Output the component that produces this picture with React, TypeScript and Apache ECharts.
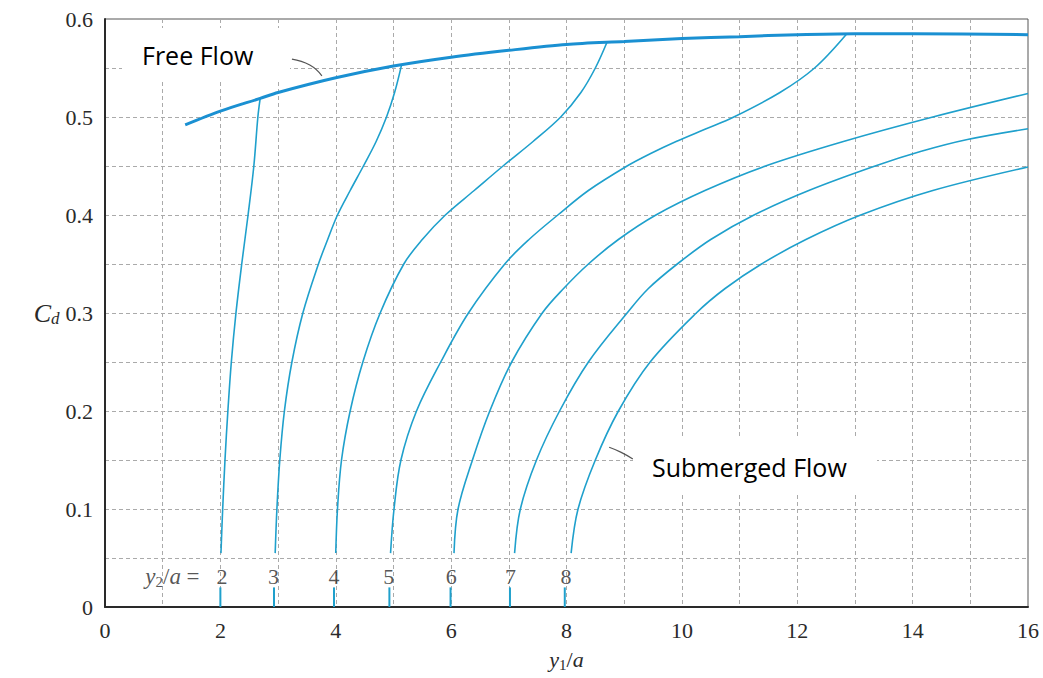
import React, { useEffect, useRef } from 'react';
import * as echarts from 'echarts';

// ---- Data ----
const freeFlowX = [1.39, 2, 2.69, 3, 4, 5, 6, 7, 8, 9, 10, 11, 12, 13, 14, 16];
const freeFlowY = [0.492, 0.506, 0.519, 0.525, 0.54, 0.552, 0.561, 0.568, 0.574, 0.577, 0.58, 0.582, 0.584, 0.585, 0.585, 0.584];

const sub2X = [2.01, 2.04, 2.08, 2.13, 2.19, 2.27, 2.37, 2.48, 2.58, 2.65, 2.69];
const sub2Y = [0.055, 0.1, 0.15, 0.2, 0.25, 0.3, 0.35, 0.4, 0.45, 0.5, 0.519];

const sub3X = [2.95, 2.98, 3.03, 3.11, 3.24, 3.43, 3.7, 3.86, 4.03, 4.25, 4.48, 4.7, 4.88, 5.02, 5.14];
const sub3Y = [0.055, 0.1, 0.15, 0.2, 0.25, 0.3, 0.35, 0.375, 0.4, 0.425, 0.45, 0.475, 0.5, 0.525, 0.553];

const sub4X = [4.0, 4.03, 4.1, 4.25, 4.47, 4.77, 5.18, 5.5, 5.9, 6.4, 6.9, 7.42, 7.9, 8.25, 8.5, 8.7];
const sub4Y = [0.055, 0.1, 0.15, 0.2, 0.25, 0.3, 0.35, 0.375, 0.4, 0.425, 0.45, 0.475, 0.5, 0.525, 0.55, 0.576];

const sub5X = [4.95, 5.01, 5.13, 5.4, 5.82, 6.3, 6.93, 7.35, 7.85, 8.38, 9.05, 9.45, 9.9, 10.4, 10.9, 11.7, 12.3, 12.86];
const sub5Y = [0.055, 0.1, 0.15, 0.2, 0.25, 0.3, 0.35, 0.375, 0.4, 0.425, 0.45, 0.4625, 0.475, 0.4875, 0.5, 0.525, 0.55, 0.585];

const sub6X = [6.05, 6.12, 6.37, 6.67, 7.05, 7.58, 7.95, 8.38, 8.9, 9.55, 10.4, 11.45, 12.8, 14.35, 16];
const sub6Y = [0.055, 0.1, 0.15, 0.2, 0.25, 0.3, 0.325, 0.35, 0.375, 0.4, 0.425, 0.45, 0.475, 0.5, 0.524];

const sub7X = [7.1, 7.2, 7.48, 7.88, 8.38, 9.05, 9.42, 9.92, 10.5, 11.25, 12.2, 13.35, 14.15, 14.95, 16];
const sub7Y = [0.055, 0.1, 0.15, 0.2, 0.25, 0.3, 0.325, 0.35, 0.375, 0.4, 0.425, 0.45, 0.465, 0.477, 0.488];

const sub8X = [8.08, 8.2, 8.5, 8.9, 9.45, 10.25, 10.75, 11.38, 12.15, 13.1, 14.35, 16];
const sub8Y = [0.055, 0.1, 0.15, 0.2, 0.25, 0.3, 0.325, 0.35, 0.375, 0.4, 0.425, 0.449];

const curveNames = ['2', '3', '4', '5', '6', '7', '8'];
const labelX = [2.03, 2.92, 3.97, 4.92, 6.0, 7.03, 7.99];
const labelY = 0.031;
const prefixX = 1.64;
const tickX = [2, 2.93, 3.97, 4.93, 5.99, 7.02, 7.97];
const tickTop = 0.02;

const ffLeaderX = [3.24, 3.55, 3.76];
const ffLeaderY = [0.559, 0.553, 0.542];
const smLeaderX = [8.74, 8.94, 9.15];
const smLeaderY = [0.163, 0.158, 0.151];

const xTicks = { min: 0, max: 16, interval: 2 };
const yTicks = { min: 0, max: 0.6, interval: 0.1 };

// ---- Styles ----
const SERIF = '"Liberation Serif", "Times New Roman", "DejaVu Serif", serif';
const SANS = '"Open Sans", "Noto Sans", sans-serif';
const FREE_BLUE = '#1a90d2';
const SUB_BLUE = '#1fa0cc';
const GRID = '#aaaaaa';
const INK = '#2a2a2a';

const zip = (xs: number[], ys: number[]) => xs.map((x, i) => [x, ys[i]]);

export default function App() {
  const ref = useRef<HTMLDivElement>(null);

  useEffect(() => {
    const chart = echarts.init(ref.current!, null, { renderer: 'svg' });
    const subCurves = [
      [sub2X, sub2Y], [sub3X, sub3Y], [sub4X, sub4Y], [sub5X, sub5Y],
      [sub6X, sub6Y], [sub7X, sub7Y], [sub8X, sub8Y],
    ];
    const series: any[] = [];
    subCurves.forEach(([xs, ys], i) => {
      series.push({
        type: 'line', name: 'y2/a = ' + curveNames[i], data: zip(xs, ys),
        smooth: 0.35, symbol: 'none', z: 3, silent: true,
        lineStyle: { color: SUB_BLUE, width: 1.6 },
      });
    });
    series.push({
      type: 'line', name: 'Free Flow', data: zip(freeFlowX, freeFlowY),
      smooth: 0.3, symbol: 'none', z: 4, silent: true,
      lineStyle: { color: FREE_BLUE, width: 3 },
    });
    tickX.forEach((x) => {
      series.push({
        type: 'line', data: [[x, 0], [x, tickTop]], symbol: 'none', silent: true, z: 3,
        lineStyle: { color: SUB_BLUE, width: 2 },
      });
    });
    series.push({
      type: 'line', data: zip(ffLeaderX, ffLeaderY), smooth: true, symbol: 'none', silent: true,
      lineStyle: { color: '#555', width: 1.2 },
    });
    series.push({
      type: 'line', data: zip(smLeaderX, smLeaderY), smooth: true, symbol: 'none', silent: true,
      lineStyle: { color: '#555', width: 1.2 },
    });
    series.push({
      type: 'scatter', symbolSize: 0, silent: true,
      data: labelX.map((x, i) => ({ value: [x, labelY], label: { formatter: curveNames[i] } })),
      label: { show: true, position: 'inside', color: INK, fontFamily: SERIF, fontSize: 22 },
    });
    series.push({
      type: 'scatter', symbolSize: 0, silent: true,
      data: [{ value: [prefixX, labelY] }],
      label: {
        show: true, position: 'inside', align: 'right',
        formatter: '{i|y}{s|2}{n|/}{i|a}{n| =}',
        rich: {
          i: { fontFamily: SERIF, fontStyle: 'italic', fontSize: 23, color: INK, lineHeight: 25 },
          n: { fontFamily: SERIF, fontSize: 23, color: INK, lineHeight: 25 },
          s: { fontFamily: SERIF, fontSize: 15, color: INK, lineHeight: 16, verticalAlign: 'bottom' },
        },
      },
    });

    const splitStyle = { color: GRID, width: 1, type: [4, 3] as any };

    chart.setOption({
      animation: false,
      backgroundColor: '#ffffff',
      grid: {
        left: 105, right: 15, top: 19, bottom: 71,
        show: true, borderColor: '#555', borderWidth: 1, backgroundColor: 'transparent',
      },
      xAxis: {
        type: 'value', ...xTicks,
        axisLine: { show: true, onZero: false, lineStyle: { color: INK, width: 2 } },
        axisTick: { show: false },
        axisLabel: { color: INK, fontFamily: SERIF, fontSize: 22, margin: 12 },
        splitLine: { show: true, lineStyle: splitStyle },
        minorTick: { show: false, splitNumber: 2 },
        minorSplitLine: { show: true, lineStyle: splitStyle },
        name: '{i|y}{s|1}{n|/}{i|a}',
        nameLocation: 'middle', nameGap: 40,
        nameTextStyle: {
          rich: {
            i: { fontFamily: SERIF, fontStyle: 'italic', fontSize: 22, color: INK, lineHeight: 25 },
            n: { fontFamily: SERIF, fontSize: 22, color: INK, lineHeight: 25 },
            s: { fontFamily: SERIF, fontSize: 15, color: INK, lineHeight: 16, verticalAlign: 'bottom' },
          },
        },
      },
      yAxis: {
        type: 'value', ...yTicks,
        axisLine: { show: true, onZero: false, lineStyle: { color: INK, width: 2 } },
        axisTick: { show: false },
        axisLabel: { color: INK, fontFamily: SERIF, fontSize: 22, margin: 12 },
        splitLine: { show: true, lineStyle: splitStyle },
        minorTick: { show: false, splitNumber: 2 },
        minorSplitLine: { show: true, lineStyle: splitStyle },
        name: '{c|C}{d|d}',
        nameLocation: 'middle', nameRotate: 0, nameGap: 45,
        nameTextStyle: {
          rich: {
            c: { fontFamily: SERIF, fontStyle: 'italic', fontSize: 26, color: INK, lineHeight: 28 },
            d: { fontFamily: SERIF, fontStyle: 'italic', fontSize: 17, color: INK, lineHeight: 18, verticalAlign: 'bottom' },
          },
        },
      },
      graphic: [
        { type: 'rect', z: 100, shape: { x: 122, y: 28, width: 168, height: 52 }, style: { fill: '#ffffff' } },
        { type: 'text', z: 101, x: 142, y: 55, style: { text: 'Free Flow', fill: '#000', font: `25px ${SANS}`, verticalAlign: 'middle' } },
        { type: 'rect', z: 100, shape: { x: 633, y: 438, width: 244, height: 54 }, style: { fill: '#ffffff' } },
        { type: 'text', z: 101, x: 652, y: 467, style: { text: 'Submerged Flow', fill: '#000', font: `25px ${SANS}`, verticalAlign: 'middle' } },
      ],
      series,
    });
    return () => chart.dispose();
  }, []);

  return (
    <div
      ref={ref}
      style={{ position: 'fixed', left: 0, top: 0, width: 1043, height: 678, background: '#fff' }}
    />
  );
}
